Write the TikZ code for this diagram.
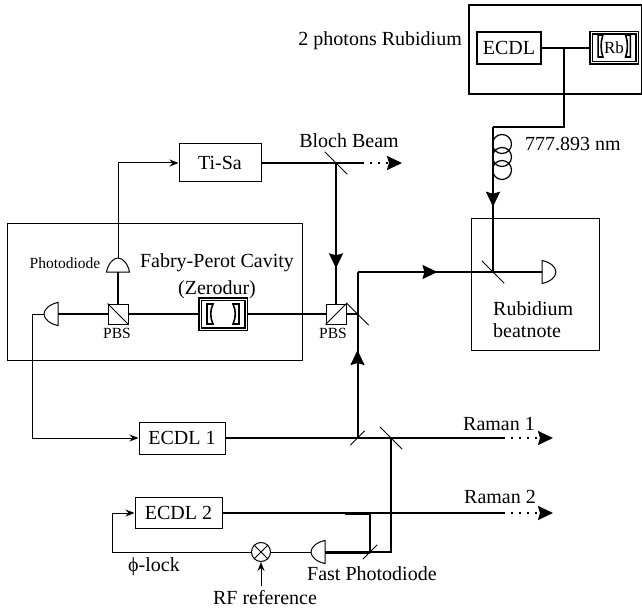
\documentclass[tikz,border=0pt]{standalone}
\usepackage{fontspec}
\setmainfont{Liberation Serif}
\usetikzlibrary{arrows.meta,decorations.markings,positioning}

\begin{document}
\begin{tikzpicture}[x=1pt,y=-1pt,font=\fontsize{20}{22}\selectfont]

\tikzset{box/.style={draw,line width=1pt,inner sep=0pt,shape=rectangle},
txt/.style={inner sep=0pt,align=left},
smalltxt/.style={inner sep=0pt,font=\fontsize{15.5}{17}\selectfont},
beam/.style={line width=2pt},
thinbeam/.style={line width=1.3pt},
heavybeam/.style={line width=3pt},
signal/.style={line width=1pt,-{Stealth[length=9pt,width=7pt]}},
wire/.style={line width=1pt},
dots/.style={line width=2pt,dash pattern=on 2pt off 6pt,-{Stealth[length=15pt,width=14pt,inset=2pt]}},
midtip/.style={postaction={decorate,decoration={markings,mark=at position #1 with {\arrow{Stealth[length=15pt,width=14pt,inset=2pt]}}}}},
mirror/.style={inner sep=0pt,minimum size=#1,shape=rectangle},
mirrorline/.style={line width=1pt},
cube/.style={draw,line width=1pt,inner sep=0pt,minimum size=20pt,shape=rectangle},
cavity/.style={draw,double,double distance=1pt,line width=1.3pt,fill=white,inner sep=0pt,shape=rectangle},
coil/.style={draw,line width=1.2pt,inner sep=0pt,minimum size=19pt,shape=circle},
detector/.pic={\draw[line width=1pt] (0,-11.5) .. controls (8,-10) and (14,-5) .. (14,0) .. controls (14,5) and (8,10) .. (0,11.5) -- cycle;
\coordinate (-apex) at (14,0);
\coordinate (-base) at (0,0);},
cavmirror/.pic={\draw[line width=1.6pt] (-3,-10) -- (3,-10) .. controls (0,-4) and (0,4) .. (3,10) -- (-3,10) -- cycle;}}

\useasboundingbox (0,0) rectangle (642,612);

% Enclosures
\node (rbhouse) [box,line width=1.5pt,minimum width=173pt,minimum height=89pt] at (555.5,49.5) {};
\node (cavhouse) [box,minimum width=295pt,minimum height=136pt] at (154.5,292) {};
\node (beathouse) [box,minimum width=128pt,minimum height=131pt] at (535,284.5) {};

% Lasers
\node (ecdl0) [box,line width=1.5pt,minimum width=64pt,minimum height=32pt] at (509,48) {ECDL};
\node (tisa) [box,minimum width=82pt,minimum height=38pt] at (220,163) {Ti-Sa};
\node (ecdl1) [box,minimum width=86pt,minimum height=32pt] at (182,438) {ECDL 1};
\node (ecdl2) [box,minimum width=87pt,minimum height=31pt] at (178.5,513) {ECDL 2};

% Cavities
\node (cav) [cavity,minimum width=46pt,minimum height=30pt] at (223,314) {};
\node (rbcell) [cavity,minimum width=46pt,minimum height=30pt] at (614,48) {};
\node (rbtext) [smalltxt,font=\fontsize{17}{19}\selectfont] at (rbcell) {Rb};
\pic at (210,314) {cavmirror};
\pic [xscale=-1] at (236,314) {cavmirror};
\pic [xscale=.8,yscale=1.1] at (600.5,46) {cavmirror};
\pic [xscale=-.8,yscale=1.1] at (628,46) {cavmirror};

% Beam splitter cubes
\node (pbs1) [cube] at (118,314) {};
\node (pbs2) [cube] at (336,314) {};
\draw [mirrorline] (pbs1.north west) -- (pbs1.south east);
\draw [mirrorline] (pbs2.south west) -- (pbs2.north east);

% Mirrors
\node (mbloch) [mirror=22pt] at (336,163) {};
\node (mbeat) [mirror=22pt] at (357.5,314) {};
\node (mrb) [mirror=22pt] at (493,272) {};
\node (msplit) [mirror=14pt] at (357.5,438) {};
\node (mraman) [mirror=22pt] at (391,438) {};
\node (mfast) [mirror=14pt] at (370,552) {};
\draw [mirrorline] (mbloch.north west) -- (mbloch.south east);
\draw [mirrorline] (mbeat.north west) -- (mbeat.south east);
\draw [mirrorline] (mrb.north west) -- (mrb.south east);
\draw [mirrorline] (msplit.south west) -- (msplit.north east);
\draw [mirrorline] (mraman.north west) -- (mraman.south east);
\draw [mirrorline] (mfast.south west) -- (mfast.north east);

% Photodiodes
\pic (pdtop) [rotate=90] at (118,272) {detector};
\pic (pdleft) [rotate=180] at (58,314) {detector};
\pic (pdbeat) at (542,272) {detector};
\pic (pdfast) [rotate=180] at (325,552) {detector};
\node (xor) [draw,line width=1pt,inner sep=0pt,minimum size=19pt,shape=circle] at (261,552) {};
\draw [wire] (xor.north west) -- (xor.south east);
\draw [wire] (xor.north east) -- (xor.south west);

% Fibre coils
\node (coil1) [coil] at (502,144) {};
\node (coil2) [coil] at (502,157) {};
\node (coil3) [coil] at (502,170) {};

% Corners and free ends
\coordinate (fibre1) at (564,48);
\coordinate (fibre2) at (564,127);
\coordinate (fibre3) at (493,127);
\coordinate (beatc) at (357.5,272);
\coordinate (blochend) at (362,163);
\coordinate (blochtip) at (402,163);
\coordinate (raman1end) at (503,438);
\coordinate (raman1tip) at (553,438);
\coordinate (raman2end) at (503,513);
\coordinate (raman2tip) at (553,513);
\coordinate (tapfast) at (345,513);
\coordinate (tapc) at (370,513);
\coordinate (tapr) at (391,513);
\coordinate (ramanc) at (391,552);
\coordinate (feedc) at (32,314);
\coordinate (lockc) at (112,552);
\coordinate (rfend) at (261,586);

% Beams
\draw [beam] (ecdl0.east) -- (rbcell.west);
\draw [beam] (fibre1) -- (fibre2) -- (fibre3);
\draw [beam,midtip=.55] (fibre3) -- (mrb.center);
\draw [beam] (tisa.east) -- (blochend);
\draw [dots] (blochend) -- (blochtip);
\draw [beam,midtip=.75] (mbloch.center) -- (pbs2.north);
\draw [beam] (pbs2.east) -- (mbeat.center);
\draw [beam] (cav.east) -- (pbs2.west);
\draw [beam] (pbs1.east) -- (cav.west);
\draw [beam] (pdleft-base) -- (pbs1.west);
\draw [beam] (pbs1.north) -- (pdtop-base);
\draw [beam,midtip=.59] (beatc) -- (mrb.center);
\draw [beam] (mrb.center) -- (pdbeat-base);
\draw [beam,midtip=.53] (msplit.center) -- (beatc);
\draw [beam] (ecdl1.east) -- (msplit.center);
\draw [thinbeam] (msplit.center) -- (mraman.center);
\draw [beam] (mraman.center) -- (raman1end);
\draw [dots] (raman1end) -- (raman1tip);
\draw [beam] (mraman.center) -- (ramanc) -- (mfast.center);
\draw [heavybeam] (mfast.center) -- (pdfast-base);
\draw [thinbeam] (ecdl2.east) -- (tapfast);
\draw [heavybeam] (tapfast) -- (tapc);
\draw [thinbeam] (tapc) -- (tapr);
\draw [beam] (tapr) -- (raman2end);
\draw [dots] (raman2end) -- (raman2tip);
\draw [beam] (tapc) -- (mfast.center);

% Electronic signals
\draw [signal] (pdtop-apex) |- (tisa.west);
\draw [wire] (pdleft-apex) -- (feedc);
\draw [signal] (feedc) |- (ecdl1.west);
\draw [wire] (pdfast-apex) -- (xor.east);
\draw [wire] (xor.west) -- (lockc);
\draw [signal] (lockc) |- (ecdl2.west);
\draw [signal] (rfend) -- (xor.south);

% Labels
\node (twophoton) [txt,anchor=east] at (462,41) {2 photons Rubidium};
\node (fibrelabel) [txt,anchor=west] at (525,144) {777.893 nm};
\node (blochlabel) [txt] at (349,141) {Bloch Beam};
\node (pdlabel) [smalltxt] at (65,263) {Photodiode};
\node (cavlabel) [txt] at (217,263) {Fabry-Perot Cavity};
\node (zerodur) [txt,below=8pt of cavlabel] {(Zerodur)};
\node (pbslabel1) [smalltxt] at (117,333) {PBS};
\node (pbslabel2) [smalltxt] at (333,333) {PBS};
\node (beatlabel) [txt,anchor=west] at (493,320) {Rubidium\\beatnote};
\node (ramanlabel1) [txt] at (499,424) {Raman 1};
\node (ramanlabel2) [txt] at (500,497) {Raman 2};
\node (locklabel) [txt,anchor=west] at (128,567) {ϕ-lock};
\node (fastlabel) [txt,anchor=west] at (307,574) {Fast Photodiode};
\node (rflabel) [txt] at (265,598) {RF reference};

\end{tikzpicture}
\end{document}
